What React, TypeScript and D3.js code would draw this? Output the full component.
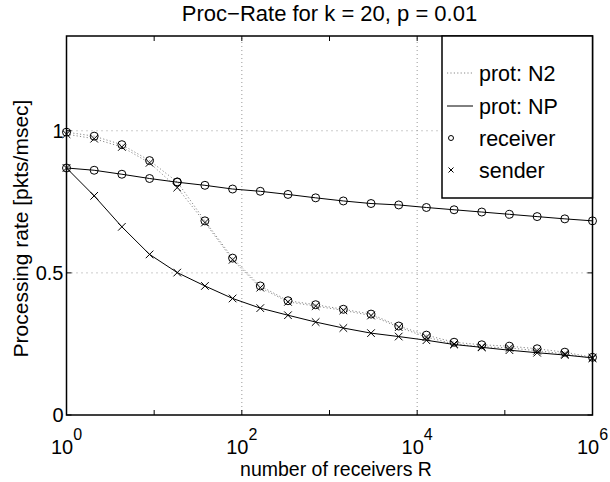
import React, { useEffect, useRef } from "react";
import * as d3 from "d3";

const exponents = d3.range(20).map((i) => (6 * i) / 19);
const xTickExps = [0, 2, 4, 6];
const xMinorExps = [1, 3, 5];
const yTicks = [0, 0.5, 1];

const n2Receiver = [0.995, 0.981, 0.951, 0.895, 0.82, 0.683, 0.552, 0.454, 0.402, 0.388, 0.372, 0.355, 0.313, 0.281, 0.256, 0.247, 0.242, 0.233, 0.221, 0.203];
const n2Sender = [0.988, 0.972, 0.943, 0.887, 0.8, 0.677, 0.546, 0.448, 0.398, 0.383, 0.368, 0.35, 0.309, 0.274, 0.25, 0.24, 0.236, 0.226, 0.215, 0.2];
const npReceiver = [0.869, 0.861, 0.847, 0.832, 0.819, 0.808, 0.795, 0.787, 0.776, 0.764, 0.753, 0.744, 0.739, 0.73, 0.722, 0.714, 0.706, 0.698, 0.69, 0.683];
const npSender = [0.869, 0.771, 0.662, 0.565, 0.501, 0.454, 0.41, 0.376, 0.351, 0.327, 0.306, 0.288, 0.276, 0.263, 0.248, 0.238, 0.228, 0.219, 0.211, 0.201];

const legendLabels = ["prot: N2", "prot: NP", "receiver", "sender"];

const W = 610, H = 482;
const L = 66.5, R = 592.5, T = 36, B = 415;
const FONT = "'Liberation Sans', Arial, Helvetica, sans-serif";

export default function App() {
  const ref = useRef<SVGSVGElement>(null);
  useEffect(() => {
    document.body.style.margin = "0";
    const svg = d3.select(ref.current);
    svg.selectAll("*").remove();
    const x = d3.scaleLog().domain([1, 1e6]).range([L, R]);
    const y = d3.scaleLinear().domain([0, 4 / 3]).range([B, T]);

    svg.append("rect").attr("width", W).attr("height", H).attr("fill", "#fff");

    // grid
    const g = svg.append("g");
    [2, 4].forEach((e) => {
      g.append("line").attr("x1", x(10 ** e)).attr("x2", x(10 ** e)).attr("y1", B).attr("y2", T)
        .attr("stroke", "#999").attr("stroke-width", 1).attr("stroke-dasharray", "1,3");
    });
    [0.5, 1].forEach((v) => {
      g.append("line").attr("x1", L).attr("x2", R).attr("y1", y(v)).attr("y2", y(v))
        .attr("stroke", "#999").attr("stroke-width", 1).attr("stroke-dasharray", "1,4");
    });

    // ticks
    const tl = 5;
    [...xTickExps, ...xMinorExps].forEach((e) => {
      const xx = x(10 ** e);
      g.append("line").attr("x1", xx).attr("x2", xx).attr("y1", B).attr("y2", B - tl).attr("stroke", "#000");
      g.append("line").attr("x1", xx).attr("x2", xx).attr("y1", T).attr("y2", T + tl).attr("stroke", "#000");
    });
    yTicks.forEach((v) => {
      g.append("line").attr("x1", L).attr("x2", L + tl).attr("y1", y(v)).attr("y2", y(v)).attr("stroke", "#000");
      g.append("line").attr("x1", R).attr("x2", R - tl).attr("y1", y(v)).attr("y2", y(v)).attr("stroke", "#000");
    });

    const line = d3.line<number>().x((_, i) => x(10 ** exponents[i])).y((d) => y(d));
    const series = [
      { data: n2Receiver, dotted: true, marker: "o" },
      { data: n2Sender, dotted: true, marker: "x" },
      { data: npReceiver, dotted: false, marker: "o" },
      { data: npSender, dotted: false, marker: "x" },
    ];
    series.forEach((s) => {
      g.append("path").attr("d", line(s.data)!).attr("fill", "none")
        .attr("stroke", s.dotted ? "#888" : "#000").attr("stroke-width", 1)
        .attr("stroke-dasharray", s.dotted ? "1.2,2.2" : null);
    });
    series.forEach((s) => {
      s.data.forEach((v, i) => {
        const cx = x(10 ** exponents[i]), cy = y(v);
        if (s.marker === "o") {
          g.append("circle").attr("cx", cx).attr("cy", cy).attr("r", 4)
            .attr("fill", "none").attr("stroke", "#000").attr("stroke-width", 1);
        } else {
          const h = 3.8;
          g.append("path").attr("d", `M${cx - h},${cy - h}L${cx + h},${cy + h}M${cx - h},${cy + h}L${cx + h},${cy - h}`)
            .attr("stroke", "#000").attr("stroke-width", 1);
        }
      });
    });

    // axes box
    svg.append("rect").attr("x", L).attr("y", T).attr("width", R - L).attr("height", B - T)
      .attr("fill", "none").attr("stroke", "#000").attr("stroke-width", 1.5);

    // tick labels
    yTicks.forEach((v) => {
      svg.append("text").attr("x", L - 3).attr("y", y(v)).attr("dy", "0.35em")
        .attr("text-anchor", "end").attr("font-family", FONT).attr("font-size", 20).text(String(v));
    });
    xTickExps.forEach((e) => {
      const t = svg.append("text").attr("x", x(10 ** e)).attr("y", 454)
        .attr("text-anchor", "middle").attr("font-family", FONT).attr("font-size", 20);
      t.append("tspan").text("10");
      t.append("tspan").attr("dy", -14).attr("font-size", 16).text(String(e));
    });

    svg.append("text").attr("x", 336).attr("y", 476).attr("text-anchor", "middle")
      .attr("font-family", FONT).attr("font-size", 19.5).text("number of receivers R");
    svg.append("text").attr("transform", `translate(28,${(T + B) / 2 + 3}) rotate(-90)`).attr("text-anchor", "middle")
      .attr("font-family", FONT).attr("font-size", 21).text("Processing rate [pkts/msec]");
    svg.append("text").attr("x", (L + R) / 2).attr("y", 21).attr("text-anchor", "middle")
      .attr("font-family", FONT).attr("font-size", 22).text("Proc\u2212Rate for k = 20, p = 0.01");

    // legend
    const lx = 442, ly = T, lw = R - 442, lh = 198 - T;
    const lg = svg.append("g");
    lg.append("rect").attr("x", lx).attr("y", ly).attr("width", lw).attr("height", lh)
      .attr("fill", "#fff").attr("stroke", "#000").attr("stroke-width", 1.5);
    const rowY = [73, 106, 138, 170];
    legendLabels.forEach((lab, i) => {
      const yy = rowY[i];
      if (i === 0) {
        lg.append("line").attr("x1", 447).attr("x2", 473).attr("y1", yy).attr("y2", yy)
          .attr("stroke", "#888").attr("stroke-dasharray", "1.2,2.2");
      } else if (i === 1) {
        lg.append("line").attr("x1", 447).attr("x2", 473).attr("y1", yy).attr("y2", yy).attr("stroke", "#000");
      } else if (i === 2) {
        lg.append("circle").attr("cx", 451).attr("cy", yy).attr("r", 2.5).attr("fill", "none").attr("stroke", "#000");
      } else {
        const h = 2.5;
        lg.append("path").attr("d", `M${451 - h},${yy - h}L${451 + h},${yy + h}M${451 - h},${yy + h}L${451 + h},${yy - h}`)
          .attr("stroke", "#000");
      }
      lg.append("text").attr("x", 479).attr("y", yy).attr("dy", "0.35em").attr("font-family", FONT)
        .attr("font-size", 21.5).text(lab);
    });
  }, []);
  return <svg ref={ref} width={W} height={H} style={{ display: "block" }} />;
}
